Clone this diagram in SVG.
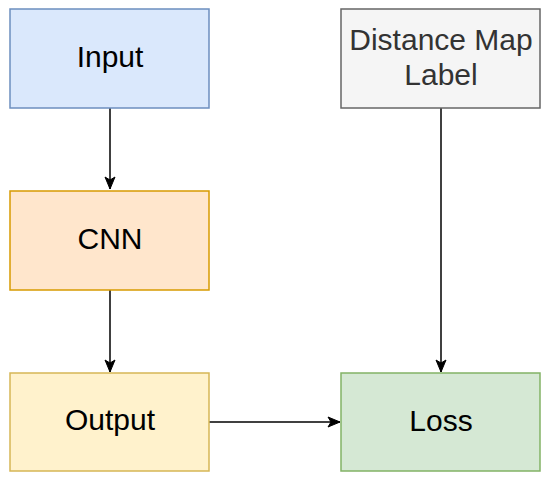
<svg xmlns="http://www.w3.org/2000/svg" width="550" height="483" viewBox="0 0 550 483">
<style>
text{font-family:"Liberation Sans",Arial,sans-serif;font-size:30px;text-anchor:middle;fill:#000}
.box{stroke-width:1.5}
.edge{stroke:#000;stroke-width:1.5;fill:none}
</style>
<defs>
<marker id="arr" markerUnits="userSpaceOnUse" markerWidth="16" markerHeight="16" viewBox="0 0 16 16" refX="14" refY="8" orient="auto">
<path d="M2,3 L14,8 L2,13 L5,8 Z" fill="#000" stroke="#000" stroke-width="1"/>
</marker>
</defs>
<rect width="550" height="483" fill="#fff"/>
<g id="connectors">
<path class="edge" d="M110,108 L110,189" marker-end="url(#arr)"/>
<path class="edge" d="M110,290 L110,372" marker-end="url(#arr)"/>
<path class="edge" d="M209,422 L340,422" marker-end="url(#arr)"/>
<path class="edge" d="M441,108 L441,372" marker-end="url(#arr)"/>
</g>
<g id="input">
<rect class="box" x="10" y="9" width="199" height="99" fill="#dae8fc" stroke="#6c8ebf"/>
<text x="110" y="67">Input</text>
</g>
<g id="cnn">
<rect class="box" x="10" y="191" width="199" height="99" fill="#ffe6cc" stroke="#d79b00"/>
<text x="110" y="249">CNN</text>
</g>
<g id="output">
<rect class="box" x="10" y="373" width="199" height="98" fill="#fff2cc" stroke="#d6b656"/>
<text x="110" y="430">Output</text>
</g>
<g id="distance-map-label">
<rect class="box" x="341" y="9" width="199" height="99" fill="#f5f5f5" stroke="#666666"/>
<text x="441" y="50" style="fill:#333333">Distance Map</text>
<text x="441" y="85" style="fill:#333333">Label</text>
</g>
<g id="loss">
<rect class="box" x="341" y="373" width="199" height="98" fill="#d5e8d4" stroke="#82b366"/>
<text x="441" y="431">Loss</text>
</g>
</svg>
